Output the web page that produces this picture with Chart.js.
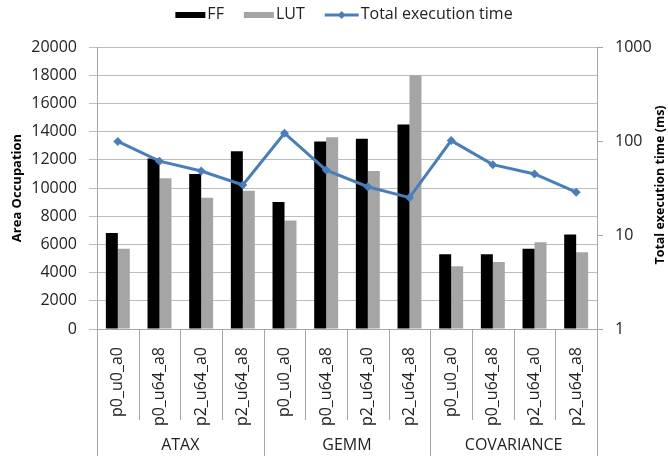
<!DOCTYPE html>
<html lang="en">
<head>
<meta charset="UTF-8">
<title>Area occupation and total execution time</title>
<style>
  body { margin: 0; background: #fff; }
  canvas { display: block; }
</style>
</head>
<body>
<canvas id="myChart" width="668" height="456"></canvas>
<script src="https://cdn.jsdelivr.net/npm/chart.js"></script>
<script>
const configs = ['p0_u0_a0', 'p0_u64_a8', 'p2_u64_a0', 'p2_u64_a8',
                 'p0_u0_a0', 'p0_u64_a8', 'p2_u64_a0', 'p2_u64_a8',
                 'p0_u0_a0', 'p0_u64_a8', 'p2_u64_a0', 'p2_u64_a8'];
const groups = ['ATAX', 'GEMM', 'COVARIANCE'];
const ffValues = [6800, 12100, 11000, 12600, 9000, 13300, 13500, 14500, 5300, 5300, 5700, 6700];
const lutValues = [5700, 10700, 9300, 9800, 7700, 13600, 11200, 18000, 4450, 4750, 6150, 5450];
const timeValues = [99, 61, 48, 34, 121, 49, 32.6, 25, 101, 56, 44.6, 28.5];
const timeTicks = [1, 10, 100, 1000];

const FONT = '"Open Sans", sans-serif';
const axisColor = '#a6a6a6';
const gridColor = '#bdbdbd';
const textColor = '#222';
const blue = '#4a7ebb';

// legend drawn by hand so it looks like the Excel one (line with a diamond)
const excelLegend = {
    id: 'excelLegend',
    afterDraw(chart) {
        const ctx = chart.ctx;
        const items = chart.data.datasets.map(ds => ({label: ds.label, color: ds.borderColor || ds.backgroundColor, line: ds.type === 'line'}));
        ctx.save();
        ctx.font = '16px ' + FONT;
        ctx.textBaseline = 'middle';
        const boxW = 30, gap = 2, spacing = 20, y = 15;
        const widths = items.map(it => (it.line ? 34 : boxW) + gap + ctx.measureText(it.label).width);
        const total = widths.reduce((a, b) => a + b, 0) + spacing * (items.length - 1);
        let x = (chart.chartArea.left + chart.chartArea.right) / 2 - 3 - total / 2;
        items.forEach((it, i) => {
            if (it.line) {
                ctx.strokeStyle = it.color;
                ctx.lineWidth = 3;
                ctx.beginPath(); ctx.moveTo(x, y); ctx.lineTo(x + 34, y); ctx.stroke();
                ctx.fillStyle = it.color;
                ctx.beginPath();
                ctx.moveTo(x + 17, y - 4); ctx.lineTo(x + 21, y); ctx.lineTo(x + 17, y + 4); ctx.lineTo(x + 13, y);
                ctx.closePath(); ctx.fill();
                ctx.fillStyle = textColor;
                ctx.fillText(it.label, x + 34 + gap, y - 1);
            } else {
                ctx.fillStyle = it.color;
                ctx.fillRect(x, y - 3, boxW, 6);
                ctx.fillStyle = textColor;
                ctx.fillText(it.label, x + boxW + gap, y - 1);
            }
            x += widths[i] + spacing;
        });
        ctx.restore();
    }
};

// category / group dividers below the axis and the right axis title
const extras = {
    id: 'extras',
    afterDraw(chart) {
        const {ctx, chartArea} = chart;
        const xs = chart.scales.x;
        const perGroup = configs.length / groups.length;
        ctx.save();
        ctx.strokeStyle = axisColor;
        ctx.lineWidth = 1;
        for (let i = 0; i <= configs.length; i++) {
            let px;
            if (i === 0) px = xs.left;
            else if (i === configs.length) px = xs.right;
            else px = (xs.getPixelForValue(i - 1) + xs.getPixelForValue(i)) / 2;
            px = Math.round(px) + 0.5;
            const yEnd = i % perGroup === 0 ? chart.height : chartArea.bottom + 91;
            ctx.beginPath();
            ctx.moveTo(px, chartArea.bottom);
            ctx.lineTo(px, yEnd);
            ctx.stroke();
        }
        ctx.translate(660, (chartArea.top + chartArea.bottom) / 2 - 3);
        ctx.rotate(-Math.PI / 2);
        ctx.font = 'bold 12.5px ' + FONT;
        ctx.fillStyle = '#000';
        ctx.textAlign = 'center';
        ctx.textBaseline = 'middle';
        ctx.fillText('Total execution time (ms)', 0, 0);
        ctx.restore();
    }
};

const ctx = document.getElementById('myChart').getContext('2d');
const myChart = new Chart(ctx, {
    type: 'bar',
    data: {
        labels: configs,
        datasets: [
            {label: 'FF', data: ffValues, backgroundColor: '#000000', borderWidth: 0, yAxisID: 'y', order: 1,
             categoryPercentage: 0.575, barPercentage: 1},
            {label: 'LUT', data: lutValues, backgroundColor: '#a5a5a5', borderWidth: 0, yAxisID: 'y', order: 2,
             categoryPercentage: 0.575, barPercentage: 1},
            {label: 'Total execution time', type: 'line', data: timeValues, yAxisID: 'y2', order: 0,
             borderColor: blue, backgroundColor: blue, borderWidth: 3, tension: 0,
             pointStyle: 'rectRot', pointRadius: 4.5, pointBackgroundColor: blue, pointBorderWidth: 0}
        ]
    },
    options: {
        responsive: false,
        animation: false,
        layout: {padding: {top: 47}},
        plugins: {
            legend: {display: false},
            tooltip: {enabled: false}
        },
        scales: {
            x: {
                position: 'bottom',
                weight: 0,
                grid: {display: false},
                border: {display: true, color: axisColor},
                ticks: {
                    autoSkip: false, minRotation: 90, maxRotation: 90, padding: 10,
                    color: textColor, font: {family: FONT, size: 16}
                },
                afterFit: s => { s.height = 101; }
            },
            x2: {
                type: 'category',
                labels: groups,
                position: 'bottom',
                weight: 1,
                offset: true,
                grid: {display: false},
                border: {display: false},
                ticks: {padding: -2, color: textColor, font: {family: FONT, size: 16}},
                afterFit: s => { s.height = 26; }
            },
            y: {
                position: 'left',
                min: 0,
                max: 20000,
                ticks: {stepSize: 2000, padding: 12, color: textColor, font: {family: FONT, size: 16},
                        callback: v => String(v)},
                grid: {color: gridColor, tickLength: 8},
                border: {color: axisColor},
                title: {display: true, text: 'Area Occupation', color: '#000',
                        font: {family: FONT, size: 13, weight: 'bold'}, padding: {top: 9, bottom: 0}},
                afterFit: s => { s.width = 97; }
            },
            y2: {
                type: 'logarithmic',
                position: 'right',
                min: 1,
                max: 1000,
                grid: {drawOnChartArea: false, color: axisColor, tickLength: 6},
                border: {color: axisColor},
                ticks: {padding: 12, color: textColor, font: {family: FONT, size: 16}, callback: v => String(v)},
                afterBuildTicks: s => { s.ticks = timeTicks.map(v => ({value: v})); },
                afterFit: s => { s.width = 71; }
            }
        }
    },
    plugins: [excelLegend, extras]
});
</script>
</body>
</html>
